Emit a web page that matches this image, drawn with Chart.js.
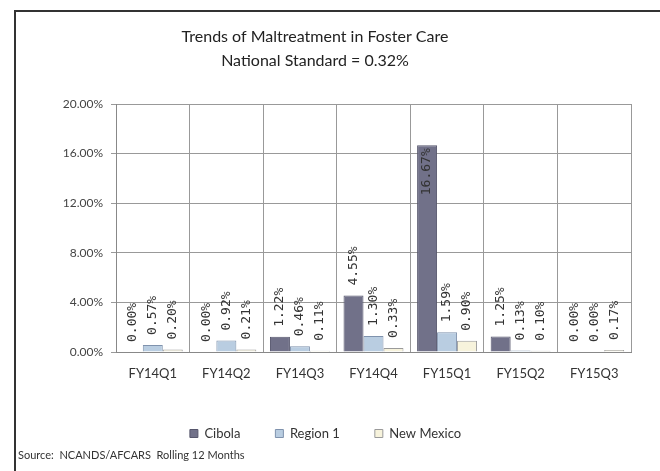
<!DOCTYPE html>
<html>
<head>
<meta charset="utf-8">
<script src="https://cdn.jsdelivr.net/npm/chart.js@4/dist/chart.umd.min.js"></script>
<style>
  html, body { margin: 0; padding: 0; background: #fff; }
  #wrap { width: 660px; height: 471px; }
</style>
</head>
<body>
<div id="wrap"><canvas id="maltChart" width="660" height="471"></canvas></div>
<script>
// quarters and rates (percent)
const quarters = ['FY14Q1', 'FY14Q2', 'FY14Q3', 'FY14Q4', 'FY15Q1', 'FY15Q2', 'FY15Q3'];
const cibola = [0.00, 0.00, 1.22, 4.55, 16.67, 1.25, 0.00];
const region1 = [0.57, 0.92, 0.46, 1.30, 1.59, 0.13, 0.00];
const newMexico = [0.20, 0.21, 0.11, 0.33, 0.90, 0.10, 0.17];
const yTicks = [0, 4, 8, 12, 16, 20];

const FONT = 'Lato, "Open Sans", sans-serif';

// frame, title and source line
const decor = {
  id: 'decor',
  beforeDraw(chart) {
    const ctx = chart.ctx;
    ctx.save();
    ctx.fillStyle = '#fff';
    ctx.fillRect(0, 0, chart.width, chart.height);
    ctx.strokeStyle = '#333';
    ctx.lineWidth = 2;
    ctx.strokeRect(15, 11, 700, 500);
    ctx.restore();
  },
  afterDraw(chart) {
    const ctx = chart.ctx;
    ctx.save();
    ctx.fillStyle = '#222';
    ctx.textAlign = 'center';
    ctx.textBaseline = 'middle';
    ctx.font = '16px ' + FONT;
    ctx.fillText('Trends of Maltreatment in Foster Care', 315, 37);
    ctx.fillText('National Standard = 0.32%', 315, 61);
    ctx.textAlign = 'left';
    ctx.font = '11px ' + FONT;
    ctx.fillStyle = '#333';
    ctx.fillText('Source:  NCANDS/AFCARS  Rolling 12 Months', 18, 455);
    ctx.restore();
  }
};

// rotated value labels like excel
const barLabels = {
  id: 'barLabels',
  afterDatasetsDraw(chart) {
    const ctx = chart.ctx;
    const top = chart.chartArea.top;
    ctx.save();
    ctx.font = '13px "DejaVu Sans Mono", monospace';
    ctx.fillStyle = '#333';
    ctx.textBaseline = 'middle';
    chart.data.datasets.forEach((ds, i) => {
      chart.getDatasetMeta(i).data.forEach((bar, j) => {
        const txt = ds.data[j].toFixed(2) + '%';
        const w = ctx.measureText(txt).width;
        ctx.save();
        if (bar.y - 10 - w < top) {
          ctx.translate(bar.x, bar.y + 3);
          ctx.rotate(-Math.PI / 2);
          ctx.textAlign = 'right';
        } else {
          ctx.translate(bar.x, bar.y - 10);
          ctx.rotate(-Math.PI / 2);
          ctx.textAlign = 'left';
        }
        ctx.fillText(txt, 0, 0);
        ctx.restore();
      });
    });
    ctx.restore();
  }
};

new Chart(document.getElementById('maltChart'), {
  type: 'bar',
  data: {
    labels: quarters,
    datasets: [
      { label: 'Cibola', data: cibola, backgroundColor: '#717189', borderColor: '#56566c', borderWidth: 1 },
      { label: 'Region 1', data: region1, backgroundColor: '#b9cde1', borderColor: '#7f92ad', borderWidth: 1 },
      { label: 'New Mexico', data: newMexico, backgroundColor: '#f7f3dc', borderColor: '#9a9a9a', borderWidth: 1 }
    ]
  },
  options: {
    responsive: false,
    animation: false,
    devicePixelRatio: 1,
    layout: { padding: { left: 20, right: 29, top: 104, bottom: 21 } },
    datasets: { bar: { categoryPercentage: 0.815, barPercentage: 1 } },
    plugins: {
      title: { display: false },
      tooltip: { enabled: false },
      legend: {
        position: 'bottom',
        labels: {
          font: { family: FONT, size: 13 },
          color: '#333',
          boxWidth: 8,
          boxHeight: 8,
          padding: 35
        }
      }
    },
    scales: {
      x: {
        grid: { color: '#999', drawTicks: false },
        border: { color: '#888' },
        ticks: { font: { family: FONT, size: 13 }, color: '#333', padding: 14 },
        afterFit: s => { s.height = 40; }
      },
      y: {
        min: 0,
        max: 20,
        afterBuildTicks: s => { s.ticks = yTicks.map(v => ({ value: v })); },
        grid: { color: '#999', tickLength: 5 },
        border: { color: '#888' },
        ticks: { font: { family: FONT, size: 12 }, color: '#444', padding: 8,
          callback: v => v.toFixed(2) + '%' },
        afterFit: s => { s.width = 96; }
      }
    }
  },
  plugins: [decor, barLabels]
});
</script>
</body>
</html>
